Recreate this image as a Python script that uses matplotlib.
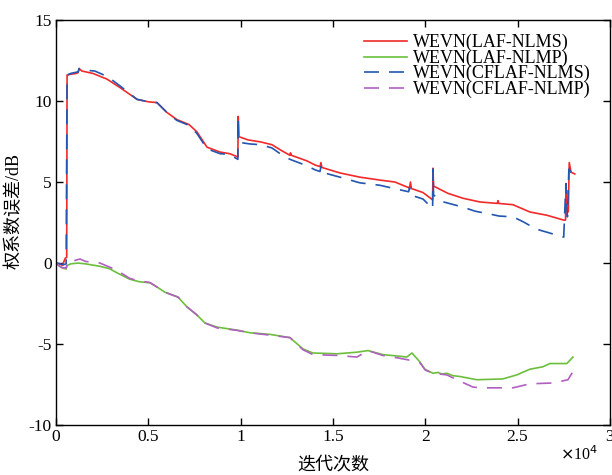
import matplotlib
matplotlib.use('Agg')
import matplotlib.pyplot as plt

# iteration index and weight error (dB) for each algorithm
x_laf_nlms = [0, 200, 350, 500, 580, 600, 800, 1100, 1200, 1250, 1400, 2000, 2760, 3500,
              4390, 5000, 5470, 6000, 6550, 7200, 7630, 8180, 8880, 9400, 9850, 9870, 9900,
              10400, 11100, 11700, 12200, 12670, 12700, 12750, 13600, 14030, 14300, 14350,
              14400, 15380, 16460, 17540, 18360, 19000, 19150, 19200, 19250, 19880, 20400,
              20420, 20450, 21230, 22040, 22960, 23900, 23940, 23980, 24750, 25670, 26590,
              27500, 27600, 27620, 27650, 27750, 27800, 27900, 28100]
y_laf_nlms = [0, -0.05, -0.15, 0.3, 0.35, 11.6, 11.65, 11.7, 11.75, 12.0, 11.85, 11.7, 11.35,
              10.8, 10.1, 9.95, 9.9, 9.3, 8.85, 8.55, 8.1, 7.15, 6.85, 6.75, 6.55, 9.05, 7.8,
              7.6, 7.47, 7.3, 6.95, 6.65, 6.8, 6.65, 6.3, 6.05, 5.95, 6.2, 5.9, 5.56, 5.3,
              5.12, 5.0, 4.7, 4.65, 5.0, 4.6, 4.35, 3.9, 5.85, 4.75, 4.3, 4.0, 3.77, 3.68,
              3.85, 3.68, 3.6, 3.15, 2.95, 2.65, 2.65, 4.9, 3.0, 3.2, 6.2, 5.6, 5.5]

x_laf_nlmp = [0, 200, 350, 550, 600, 800, 1190, 1600, 2380, 2900, 3300, 4000, 4500, 5090,
              5500, 5900, 6610, 7090, 7630, 8070, 8720, 9800, 10500, 11590, 12670, 13380,
              13920, 15220, 16300, 16900, 17700, 18630, 19000, 19280, 19710, 19980, 20420,
              20700, 20900, 21170, 21500, 21880, 22800, 24200, 24960, 25670, 26370, 26750,
              27670, 28000]
y_laf_nlmp = [0, -0.2, -0.3, -0.37, -0.15, -0.05, 0.0, -0.05, -0.2, -0.35, -0.6, -1.0, -1.15,
              -1.22, -1.5, -1.8, -2.1, -2.7, -3.2, -3.7, -3.95, -4.14, -4.3, -4.4, -4.6, -5.3,
              -5.55, -5.6, -5.5, -5.4, -5.65, -5.75, -5.8, -5.55, -6.1, -6.55, -6.8, -6.75,
              -6.85, -6.8, -6.95, -7.0, -7.2, -7.15, -6.9, -6.55, -6.4, -6.2, -6.2, -5.8]

x_cflaf_nlms = [0, 200, 400, 550, 600, 800, 1200, 1250, 1500, 2100, 2800, 3500, 4390, 5000,
                5470, 6000, 6550, 7200, 7630, 8180, 8880, 9400, 9850, 9870, 9900, 10500,
                11100, 11700, 12200, 12670, 13600, 14030, 14300, 14350, 14400, 15380, 16460,
                17540, 18500, 19100, 19150, 19200, 19880, 20400, 20420, 20450, 20900, 22040,
                22700, 23600, 24000, 24750, 25300, 26000, 26750, 27500, 27620, 27700, 27780,
                27900, 28100]
y_cflaf_nlms = [0, -0.05, -0.1, -0.05, 11.6, 11.7, 11.8, 12.0, 11.9, 11.85, 11.5, 10.9, 10.1,
                9.95, 9.9, 9.3, 8.8, 8.5, 8.0, 7.05, 6.75, 6.7, 6.4, 9.0, 7.45, 7.35, 7.3,
                7.1, 6.7, 6.4, 6.0, 5.75, 5.65, 5.95, 5.6, 5.3, 4.95, 4.8, 4.55, 4.4, 4.65,
                4.2, 3.95, 3.35, 5.8, 4.2, 3.8, 3.45, 3.2, 3.0, 2.9, 2.85, 2.55, 2.1, 1.85,
                1.6, 4.9, 2.85, 5.8, 5.6, 5.5]

x_cflaf_nlmp = [0, 200, 350, 550, 600, 900, 1300, 1600, 2380, 2900, 3300, 4000, 4500, 5090,
                5500, 5900, 6610, 7090, 7630, 8070, 8720, 9800, 10500, 11590, 12670, 13380,
                13920, 15220, 16300, 16900, 17700, 18500, 19200, 19710, 20000, 20420, 21170,
                21720, 22000, 22580, 23000, 24750, 25670, 26920, 27730, 28000]
y_cflaf_nlmp = [0, -0.2, -0.3, -0.3, 0.05, 0.12, 0.25, 0.1, 0.0, -0.25, -0.45, -0.95, -1.1,
                -1.2, -1.5, -1.8, -2.1, -2.7, -3.2, -3.7, -4.0, -4.15, -4.3, -4.45, -4.6,
                -5.35, -5.65, -5.7, -5.8, -5.4, -5.7, -5.85, -6.0, -6.15, -6.6, -6.8, -6.9,
                -7.2, -7.35, -7.65, -7.7, -7.7, -7.45, -7.4, -7.2, -6.7]

series_labels = ['WEVN(LAF-NLMS)', 'WEVN(LAF-NLMP)', 'WEVN(CFLAF-NLMS)', 'WEVN(CFLAF-NLMP)']

x_ticks = [0, 5000, 10000, 15000, 20000, 25000, 30000]
x_tick_labels = ['0', '0.5', '1', '1.5', '2', '2.5', '3']
y_ticks = [-10, -5, 0, 5, 10, 15]
y_tick_labels = ['-10', '-5', '0', '5', '10', '15']

serif = 'Liberation Serif'
cjk = ['Liberation Serif', 'Noto Sans CJK SC']

fig = plt.figure(figsize=(6.12, 4.75), dpi=100)
ax = fig.add_axes([0.0915, 0.105, 0.905, 0.853])

ax.plot(x_laf_nlms, y_laf_nlms, color='#f02a2a', lw=1.2, label=series_labels[0])
ax.plot(x_laf_nlmp, y_laf_nlmp, color='#6cbf3c', lw=1.2, label=series_labels[1])
ax.plot(x_cflaf_nlms, y_cflaf_nlms, color='#2356b0', lw=1.2, dashes=(9, 6),
        label=series_labels[2])
ax.plot(x_cflaf_nlmp, y_cflaf_nlmp, color='#b060c0', lw=1.2, dashes=(9, 6),
        label=series_labels[3])

ax.set_xlim(0, 30000)
ax.set_ylim(-10, 15)
ax.set_xticks(x_ticks)
ax.set_xticklabels(x_tick_labels, fontfamily=serif, fontsize=12.5)
ax.set_yticks(y_ticks)
ax.set_yticklabels(y_tick_labels, fontfamily=serif, fontsize=12.5)
ax.tick_params(direction='in', length=5, width=1, top=True, right=True, pad=3)
for s in ax.spines.values():
    s.set_linewidth(1.0)

ax.text(0.978, -0.05, r'$\times$10$^4$', transform=ax.transAxes, ha='right', va='top',
        fontfamily=serif, fontsize=11.5)

ax.set_xlabel('迭代次数', family=cjk, fontsize=13, labelpad=8)
ax.set_ylabel('权系数误差/dB', family=cjk, fontsize=13)
ax.yaxis.set_label_coords(-0.06, 0.528)

ax.legend(loc='upper left', bbox_to_anchor=(0.556, 0.965), frameon=False,
          prop={'family': serif, 'size': 13}, handlelength=2.4, handletextpad=0.3,
          labelspacing=-0.1, borderpad=0, borderaxespad=0)

fig.savefig('out.png', dpi=100)
